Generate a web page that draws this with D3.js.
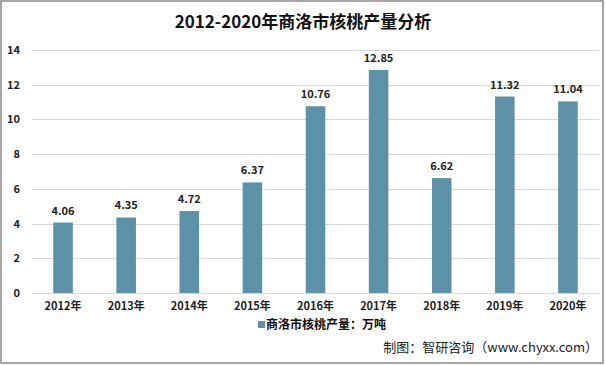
<!DOCTYPE html>
<html><head><meta charset="utf-8">
<script src="https://cdn.jsdelivr.net/npm/d3@7"></script>
<style>body{margin:0;background:#fff}svg{display:block}</style>
</head><body>
<script>
const categories = ["2012年","2013年","2014年","2015年","2016年","2017年","2018年","2019年","2020年"];
const values = [4.06,4.35,4.72,6.37,10.76,12.85,6.62,11.32,11.04];
const yTicks = [0,2,4,6,8,10,12,14];
const title = "2012-2020年商洛市核桃产量分析";
const legendLabel = "商洛市核桃产量：万吨";
const source = "制图：智研咨询（www.chyxx.com）";

const W = 606, H = 365;
const font = "'Noto Sans CJK SC','Noto Sans',sans-serif";
const svg = d3.select("body").append("svg").attr("width", W).attr("height", H);
svg.append("rect").attr("x",1).attr("y",1).attr("width",W-4).attr("height",H-3)
  .attr("fill","#fff").attr("stroke","#a6a6a6").attr("stroke-width",2);

const x = d3.scaleBand().domain(categories).range([31.5, 599.5]).paddingInner(0.69).paddingOuter(0.345);
const y = d3.scaleLinear().domain([0,14]).range([293, 50]);

svg.append("g").selectAll("line").data(yTicks).join("line")
  .attr("x1",31.5).attr("x2",599.5).attr("y1",d=>Math.round(y(d))+0.5).attr("y2",d=>Math.round(y(d))+0.5)
  .attr("stroke","#d9d9d9").attr("stroke-width",1);

const yAxis = svg.append("g").attr("transform","translate(20,0)")
  .call(d3.axisLeft(y).tickValues(yTicks).tickSize(0).tickPadding(0));
yAxis.select(".domain").remove();
yAxis.selectAll("text").attr("font-family",font).attr("font-size",11).attr("font-weight","bold").attr("fill","#222");

svg.append("g").selectAll("rect").data(values).join("rect")
  .attr("x",(d,i)=>x(categories[i])).attr("width",x.bandwidth())
  .attr("y",d=>y(d)).attr("height",d=>y(0)-y(d)).attr("fill","#5d91a7");

svg.append("g").selectAll("text").data(values).join("text")
  .attr("x",(d,i)=>x(categories[i])+x.bandwidth()/2).attr("y",d=>y(d)-8)
  .attr("text-anchor","middle").attr("font-family",font).attr("font-size",11).attr("font-weight","bold").attr("fill","#222")
  .text(d=>d.toFixed(2));

const xAxis = svg.append("g").attr("transform","translate(0,293)")
  .call(d3.axisBottom(x).tickSize(0).tickPadding(9));
xAxis.select(".domain").remove();
xAxis.selectAll("text").attr("font-family",font).attr("font-size",11).attr("font-weight","bold").attr("fill","#222");

svg.append("text").attr("x",W/2).attr("y",28).attr("text-anchor","middle")
  .attr("font-family",font).attr("font-size",17).attr("font-weight","bold").attr("fill","#111").text(title);

svg.append("rect").attr("x",258).attr("y",321).attr("width",7).attr("height",7).attr("fill","#5d91a7");
svg.append("text").attr("x",266).attr("y",329).attr("font-family",font).attr("font-size",12).attr("font-weight","bold").attr("fill","#111").text(legendLabel);

svg.append("text").attr("x",598).attr("y",352).attr("text-anchor","end")
  .attr("font-family",font).attr("font-size",13).attr("fill","#222").text(source);
</script>
</body></html>
